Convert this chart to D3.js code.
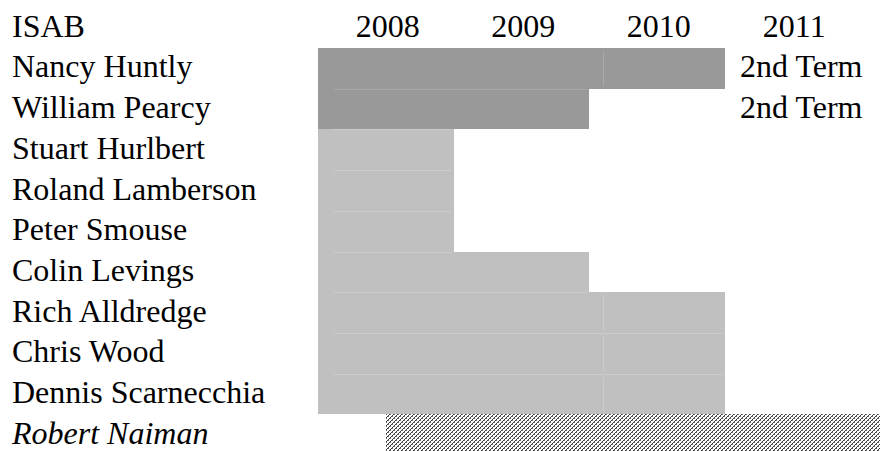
<!DOCTYPE html>
<html>
<head>
<meta charset="utf-8">
<script src="https://cdn.jsdelivr.net/npm/d3@7"></script>
<style>
  body { margin: 0; background: #fff; }
  svg { display: block; }
  text { font-family: "Liberation Serif", "Times New Roman", serif; font-size: 32px; fill: #000; }
</style>
</head>
<body>
<div id="chart"></div>
<script>
// table header and years
const title = "ISAB"
const years = [2008, 2009, 2010, 2011]

// board members, with the span of each term (start year, end year exclusive)
const members = ["Nancy Huntly", "William Pearcy", "Stuart Hurlbert", "Roland Lamberson",
    "Peter Smouse", "Colin Levings", "Rich Alldredge", "Chris Wood", "Dennis Scarnecchia", "Robert Naiman"]
const termStart = [2008, 2008, 2008, 2008, 2008, 2008, 2008, 2008, 2008, 2008.5]
const termEnd   = [2011, 2010, 2009, 2009, 2009, 2010, 2011, 2011, 2011, 2012.2]
const termType  = ["chair", "chair", "member", "member", "member", "member", "member", "member", "member", "new"]
const notes     = ["2nd Term", "2nd Term", "", "", "", "", "", "", "", ""]

const w = 880
const h = 451
const rowH = 40.7
const topY = 7.3

const svg = d3.select("#chart")
    .append("svg")
    .attr("width", w)
    .attr("height", h)

// hatch for the incoming member (4x4 pixel tile)
const hatchPx = []
for (let px = 0; px < 4; px++) {
    for (let py = 0; py < 4; py++) {
        if ((px + py) % 4 == 3) hatchPx.push([px, py, "#3a3a3a"])
        else if ((px + py) % 4 == 0 && px % 2 == 0) hatchPx.push([px, py, "#6a6a6a"])
    }
}
const pat = svg.append("defs").append("pattern")
    .attr("id", "hatch")
    .attr("patternUnits", "userSpaceOnUse")
    .attr("width", 4)
    .attr("height", 4)
pat.append("rect").attr("width", 4).attr("height", 4).attr("fill", "#fff")
pat.selectAll("rect.px")
    .data(hatchPx)
    .enter()
    .append("rect")
    .attr("class", "px")
    .attr("x", d => d[0])
    .attr("y", d => d[1])
    .attr("width", 1)
    .attr("height", 1)
    .attr("fill", d => d[2])

// year axis: 2008 starts at 318, each year about 135px
const x = d3.scaleLinear().domain([2008, 2012]).range([318, 860])
const y = d3.scaleBand().domain(d3.range(members.length + 1)).range([topY, topY + rowH * (members.length + 1)])

const fill = { chair: "#999999", member: "#c0c0c0", new: "url(#hatch)" }
const seam = { chair: "#a9a9a9", member: "#cccccc", new: "none" }

// bars
svg.append("g").selectAll("rect")
    .data(members)
    .enter()
    .append("rect")
    .attr("x", (d, i) => Math.round(x(termStart[i])))
    .attr("y", (d, i) => Math.round(y(i + 1)))
    .attr("width", (d, i) => Math.round(Math.min(x(termEnd[i]), w)) - Math.round(x(termStart[i])))
    .attr("height", (d, i) => Math.round(y(i + 2) || (y(i + 1) + rowH)) - Math.round(y(i + 1)))
    .attr("fill", (d, i) => fill[termType[i]])

// faint seams between rows of the same table
svg.append("g").selectAll("line")
    .data(members.slice(1))
    .enter()
    .append("line")
    .attr("x1", (d, i) => x(2008) + 16)
    .attr("x2", (d, i) => x(Math.min(termEnd[i + 1], termEnd[i])) - 2)
    .attr("y1", (d, i) => Math.round(y(i + 2)) + 0.5)
    .attr("y2", (d, i) => Math.round(y(i + 2)) + 0.5)
    .attr("stroke", (d, i) => termType[i + 1] == "new" ? "none" : seam[termType[i + 1]])
    .attr("stroke-width", 1)

// faint vertical seam inside the 2010 cell
svg.append("g").selectAll("line")
    .data(members.filter((d, i) => termEnd[i] >= 2011 && termType[i] != "new"))
    .enter()
    .append("line")
    .attr("x1", Math.round(x(2010.1)) + 0.5)
    .attr("x2", Math.round(x(2010.1)) + 0.5)
    .attr("y1", d => Math.round(y(members.indexOf(d) + 1)) + 3)
    .attr("y2", d => Math.round(y(members.indexOf(d) + 2)) - 3)
    .attr("stroke", d => seam[termType[members.indexOf(d)]])

// header
svg.append("text")
    .attr("x", 12)
    .attr("y", y(0) + 29.4)
    .text(title)

svg.append("g").selectAll("text")
    .data(years)
    .enter()
    .append("text")
    .attr("x", d => x(d + 0.5) + 2)
    .attr("y", y(0) + 29.4)
    .attr("text-anchor", "middle")
    .text(d => d)

// names
svg.append("g").selectAll("text")
    .data(members)
    .enter()
    .append("text")
    .attr("x", 12)
    .attr("y", (d, i) => y(i + 1) + 29.4)
    .style("font-style", (d, i) => termType[i] == "new" ? "italic" : "normal")
    .text(d => d)

// notes in the 2011 column
svg.append("g").selectAll("text")
    .data(notes)
    .enter()
    .append("text")
    .attr("x", x(2011.5) + 9)
    .attr("y", (d, i) => y(i + 1) + 29.4)
    .attr("text-anchor", "middle")
    .text(d => d)
</script>
</body>
</html>
